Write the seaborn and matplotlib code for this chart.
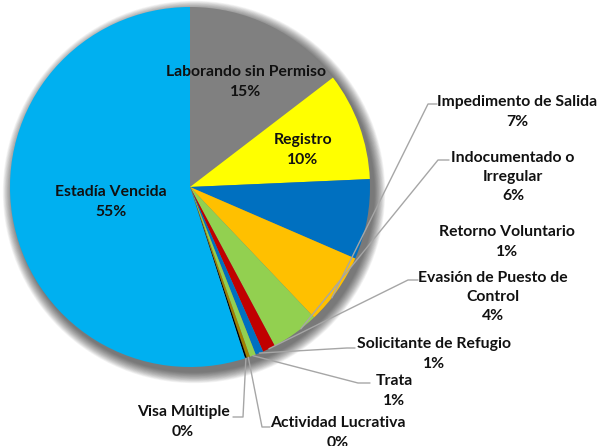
import matplotlib
matplotlib.use("Agg")
import matplotlib.pyplot as plt
import seaborn as sns
import numpy as np
from matplotlib.patches import Circle

sns.set_theme(style="white")
plt.rcParams['font.family'] = ['Lato', 'DejaVu Sans']

# datos (orden horario desde arriba)
categorias = [
    "Laborando sin Permiso", "Registro", "Impedimento de Salida",
    "Indocumentado o Irregular", "Evasión de Puesto de Control",
    "Retorno Voluntario", "Solicitante de Refugio", "Trata",
    "Actividad Lucrativa", "Visa Múltiple", "Estadía Vencida",
]
etiquetas = [
    "Laborando sin Permiso", "Registro", "Impedimento de Salida",
    "Indocumentado o\nIrregular", "Evasión de Puesto de\nControl",
    "Retorno Voluntario", "Solicitante de Refugio", "Trata",
    "Actividad Lucrativa", "Visa Múltiple", "Estadía Vencida",
]
porcentajes = [14.6, 9.7, 7.2, 6.4, 4.3, 1.15, 0.7, 0.55, 0.3, 0.15, 54.95]
colores = ["#808080", "#FFFF00", "#0070C0", "#FFC000", "#92D050",
           "#C00000", "#0070C0", "#92D050", "#A08000", "#000000", "#00B0F0"]

W, H = 599, 446
cx, cy, R = 190, H - 187, 180

fig = plt.figure(figsize=(W / 100, H / 100), dpi=100)
ax = fig.add_axes([0, 0, 1, 1])

# sombra suave
for k in range(16, 0, -1):
    ax.add_patch(Circle((cx + 4, cy - 5), R + k * 0.7, color="black",
                        alpha=0.045, lw=0, zorder=0))

ax.pie(porcentajes, colors=sns.color_palette(colores), startangle=90,
       counterclock=False, center=(cx, cy), radius=R,
       wedgeprops=dict(linewidth=0, zorder=2))

def px(x, y):
    return x, H - y

# etiquetas dentro
dentro = {0: (246, 82), 1: (303, 150), 10: (111, 202)}
# etiquetas fuera: centro del texto, codo y arranque de la línea, ángulo fijo
fuera = {
    2: ((517, 112), (437, 104), (428, 104), 128),
    3: ((513, 177), (449, 160), (438, 160), 142),
    5: ((507, 242), None, None, None),
    4: ((493, 297), (418, 280), (408, 280), 154),
    6: ((434, 354), (355, 348), (347, 348), None),
    7: ((394, 391), (370, 383), (358, 383), None),
    8: ((338, 433), (270, 427), (262, 427), None),
    9: ((183, 422), (233, 417), (243, 417), None),
}

acum = np.cumsum([0] + porcentajes)
txt = dict(fontsize=11.3, fontweight="bold", color="#111111",
           ha="center", va="center", linespacing=1.5, zorder=5)

for i, (x, y) in dentro.items():
    ax.text(*px(x, y), f"{etiquetas[i]}\n{porcentajes[i]:.0f}%", **txt)

for i, (pos, p0, p1, ang) in fuera.items():
    ax.text(*px(*pos), f"{etiquetas[i]}\n{porcentajes[i]:.0f}%", **txt)
    if p0 is None:
        continue
    if ang is None:
        ang = (acum[i] + acum[i + 1]) / 2 * 3.6
    t = np.deg2rad(ang)
    ex, ey = cx + R * np.sin(t), cy + R * np.cos(t)
    xs = [px(*p0)[0], px(*p1)[0], ex]
    ys = [px(*p0)[1], px(*p1)[1], ey]
    ax.plot(xs, ys, color="#A6A6A6", lw=1, zorder=4)

ax.set_xlim(0, W)
ax.set_ylim(0, H)
ax.set_aspect("equal")
ax.axis("off")
fig.savefig("out.png", dpi=100)
